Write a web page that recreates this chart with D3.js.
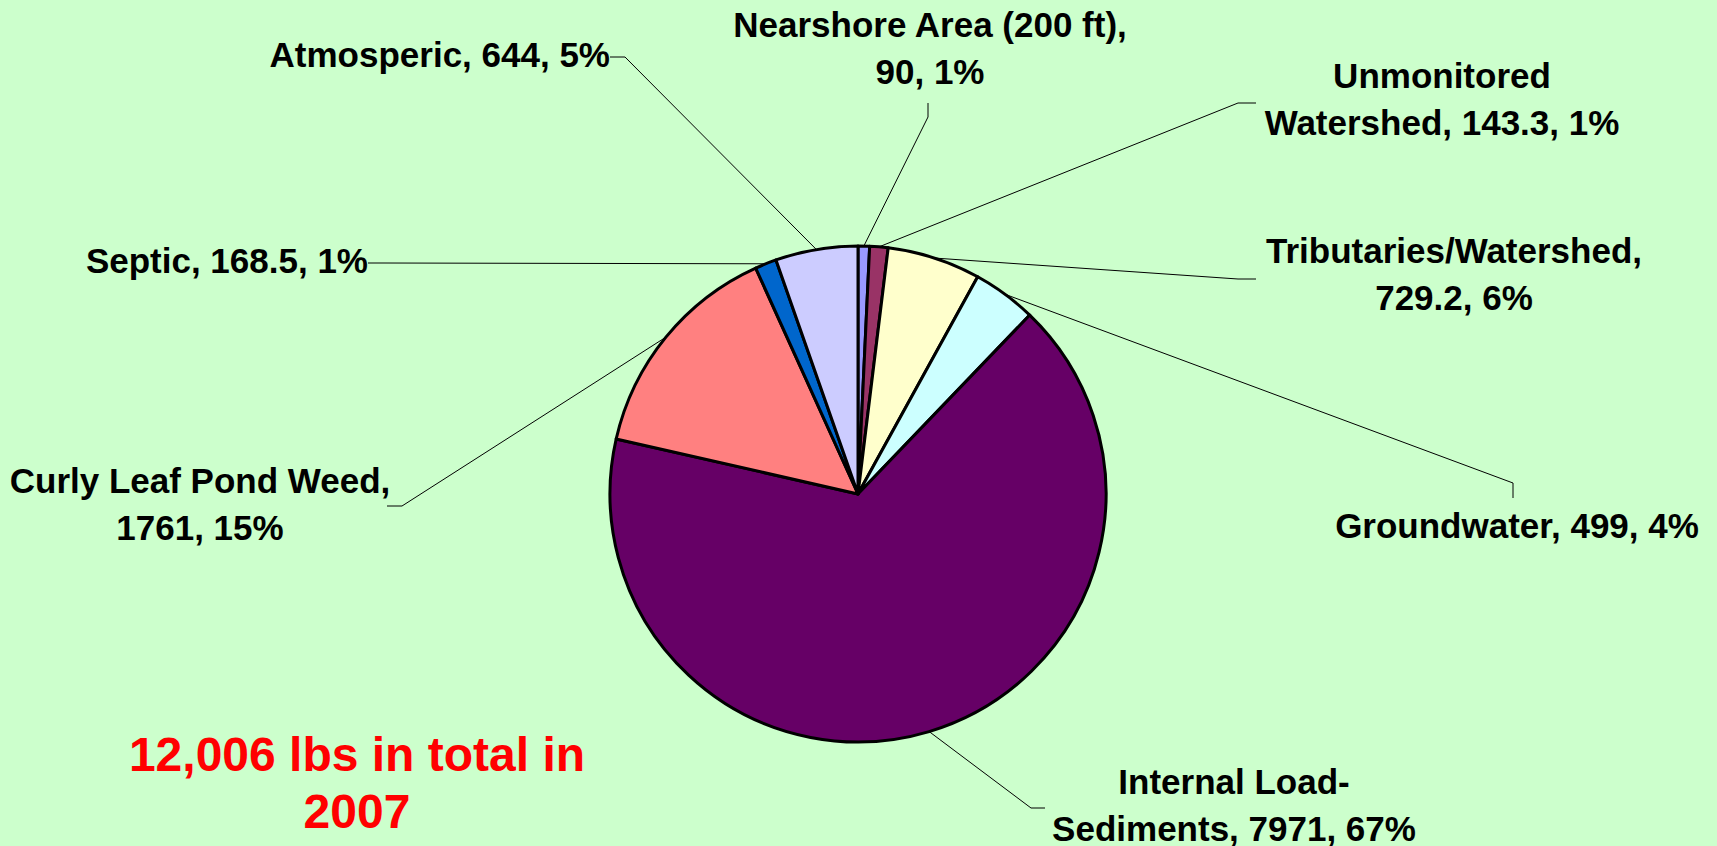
<!DOCTYPE html>
<html>
<head>
<meta charset="utf-8">
<script src="https://cdn.jsdelivr.net/npm/d3@7"></script>
<style>
    html, body { margin: 0; padding: 0; background: #ccffcc; }
    svg { display: block; }
</style>
</head>
<body>
<div class="chart"></div>
<script>
    // Data (slices clockwise from 12 o'clock)
    var categories = ['Nearshore Area (200 ft)', 'Unmonitored\nWatershed', 'Tributaries/Watershed', 'Groundwater',
        'Internal Load-\nSediments', 'Curly Leaf Pond Weed', 'Septic', 'Atmosperic'];
    var values = [90, 143.3, 729.2, 499, 7971, 1761, 168.5, 644];
    var percents = [1, 1, 6, 4, 67, 15, 1, 5];
    var colors = ['#9999ff', '#993366', '#ffffcc', '#ccffff', '#660066', '#ff8080', '#0066cc', '#ccccff'];
    var totalYear = '2007';

    // Label placement: text anchor x, first baseline, leader elbow and end
    var labelLayout = [
        { x: 930, y: 37, anchor: 'middle', wrapName: true, elbow: [928, 117], end: [928, 103] },
        { x: 1442, y: 88, anchor: 'middle', wrapName: false, elbow: [1238, 103], end: [1256, 103] },
        { x: 1454, y: 263, anchor: 'middle', wrapName: true, elbow: [1238, 279], end: [1256, 279] },
        { x: 1517, y: 538, anchor: 'middle', wrapName: false, elbow: [1513, 483], end: [1513, 498] },
        { x: 1234, y: 794, anchor: 'middle', wrapName: false, elbow: [1031, 808], end: [1045, 808] },
        { x: 200, y: 493, anchor: 'middle', wrapName: true, elbow: [402, 506], end: [387, 506] },
        { x: 368, y: 273, anchor: 'end', wrapName: false, elbow: [383, 263], end: [368, 263] },
        { x: 610, y: 67, anchor: 'end', wrapName: false, elbow: [625, 57], end: [610, 57] }
    ];

    var width = 1717;
    var height = 846;
    var cx = 858;
    var cy = 494;
    var radius = 248;
    var fontSize = 35;
    var lineHeight = 46.5;

    var svg = d3.select('.chart')
        .append('svg')
            .attr('width', width)
            .attr('height', height);

    svg.append('rect')
        .attr('width', width)
        .attr('height', height)
        .attr('fill', '#ccffcc');

    var pie = d3.pie().sort(null).value(function (d) { return d; });
    var arcs = pie(values);
    var arc = d3.arc().innerRadius(0).outerRadius(radius);
    var edge = d3.arc().innerRadius(radius).outerRadius(radius);

    var g = svg.append('g').attr('transform', 'translate(' + cx + ',' + cy + ')');

    // Slices
    g.selectAll('path.slice')
        .data(arcs)
        .enter()
        .append('path')
            .attr('class', 'slice')
            .attr('d', arc)
            .attr('fill', function (d, i) { return colors[i]; })
            .attr('stroke', '#000')
            .attr('stroke-width', 3)
            .attr('stroke-linejoin', 'round');

    // Leader lines: slice edge midpoint -> elbow -> label
    svg.selectAll('polyline.leader')
        .data(arcs)
        .enter()
        .append('polyline')
            .attr('class', 'leader')
            .attr('points', function (d, i) {
                var p = edge.centroid(d);
                var l = labelLayout[i];
                return [[p[0] + cx, p[1] + cy], l.elbow, l.end].join(' ');
            })
            .attr('fill', 'none')
            .attr('stroke', '#000')
            .attr('stroke-width', 1);

    // Labels
    function labelLines(i) {
        var l = labelLayout[i];
        var name = categories[i];
        var rest = values[i] + ', ' + percents[i] + '%';
        var text = l.wrapName ? name + ',\n' + rest : name + ', ' + rest;
        return text.split('\n');
    }

    var labels = svg.selectAll('text.label')
        .data(arcs)
        .enter()
        .append('text')
            .attr('class', 'label')
            .attr('text-anchor', function (d, i) { return labelLayout[i].anchor; })
            .attr('font-family', "'Liberation Sans', Arial, sans-serif")
            .attr('font-weight', 'bold')
            .attr('font-size', fontSize)
            .attr('fill', '#000');

    labels.each(function (d, i) {
        var l = labelLayout[i];
        d3.select(this).selectAll('tspan')
            .data(labelLines(i))
            .enter()
            .append('tspan')
                .attr('x', l.x)
                .attr('y', function (t, j) { return l.y + j * lineHeight; })
                .text(function (t) { return t; });
    });

    // Total note
    var totalLines = [d3.format(',')(d3.sum(values)) + ' lbs in total in', totalYear];
    svg.append('text')
        .attr('text-anchor', 'middle')
        .attr('font-family', "'Liberation Sans', Arial, sans-serif")
        .attr('font-weight', 'bold')
        .attr('font-size', 48)
        .attr('fill', '#ff0000')
        .selectAll('tspan')
        .data(totalLines)
        .enter()
        .append('tspan')
            .attr('x', 357)
            .attr('y', function (t, j) { return 771 + j * 57; })
            .text(function (t) { return t; });
</script>
</body>
</html>
